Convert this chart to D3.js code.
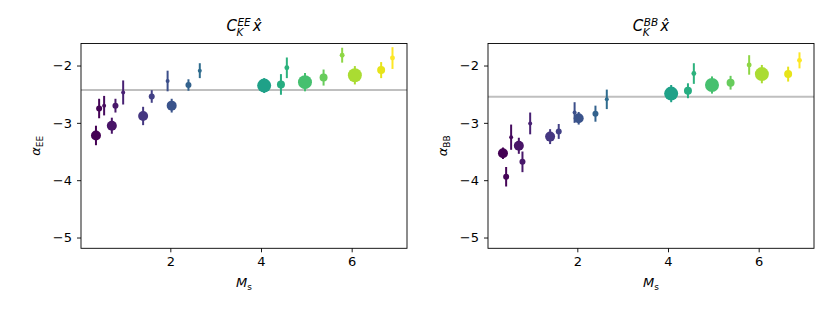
<!DOCTYPE html>
<html>
<head>
<meta charset="utf-8">
<script src="https://cdn.jsdelivr.net/npm/d3@7"></script>
<style>
  body { margin: 0; background: #fff; }
  svg { display: block; font-family: "DejaVu Sans", sans-serif; }
</style>
</head>
<body>
<svg id="chart" width="830" height="312"></svg>
<script>
// M_s for every point (same in both panels)
var msVals = [0.36, 0.43, 0.54, 0.71, 0.79, 0.96, 1.40, 1.59, 1.94, 2.03, 2.40, 2.65,
              4.07, 4.44, 4.57, 4.97, 5.38, 5.79, 6.07, 6.65, 6.90];
// relative weight of each point (drives marker area)
var weights = [25, 9, 4, 25, 9, 4, 25, 9, 4, 25, 9, 4,
               49, 16, 6, 49, 16, 6, 49, 16, 6];

var alphaEE = [-3.22, -2.75, -2.70, -3.05, -2.70, -2.47, -2.88, -2.54, -2.27, -2.70, -2.34, -2.09,
               -2.35, -2.33, -2.04, -2.29, -2.21, -1.82, -2.17, -2.08, -1.87];
var errEE = [0.17, 0.17, 0.17, 0.14, 0.12, 0.21, 0.16, 0.11, 0.18, 0.12, 0.10, 0.13,
             0.13, 0.18, 0.18, 0.16, 0.14, 0.13, 0.16, 0.14, 0.19];

var alphaBB = [-3.53, -3.94, -3.25, -3.40, -3.68, -3.01, -3.24, -3.15, -2.82, -2.92, -2.84, -2.59,
               -2.49, -2.44, -2.14, -2.34, -2.30, -1.99, -2.15, -2.15, -1.91];
var errBB = [0.10, 0.17, 0.22, 0.14, 0.18, 0.19, 0.13, 0.13, 0.18, 0.11, 0.14, 0.17,
             0.15, 0.13, 0.18, 0.15, 0.12, 0.17, 0.16, 0.13, 0.14];

var refEE = -2.427;
var refBB = -2.544;

var xTicks = [2, 4, 6];
var yTicks = [-2, -3, -4, -5];

var panels = [
  { left: 81, spec: 'EE', vals: alphaEE, errs: errEE, ref: refEE },
  { left: 488, spec: 'BB', vals: alphaBB, errs: errBB, ref: refBB }
];

var plotW = 326, plotTop = 43.5, plotH = 204.8;
var svg = d3.select('#chart');
svg.append('rect').attr('width', 830).attr('height', 312).attr('fill', '#fff');

var color = d3.scaleSequential(d3.interpolateViridis).domain(d3.extent(msVals));
var rScale = d3.scaleSqrt().domain([0, 49]).range([0, 7]);

panels.forEach(function(p) {
  var x = d3.scaleLinear().domain([0.03, 7.22]).range([p.left, p.left + plotW]);
  var y = d3.scaleLinear().domain([-5.188, -1.616]).range([plotTop + plotH, plotTop]);
  var g = svg.append('g');

  // reference line
  g.append('line')
    .attr('x1', p.left).attr('x2', p.left + plotW)
    .attr('y1', y(p.ref)).attr('y2', y(p.ref))
    .attr('stroke', '#bfbfbf').attr('stroke-width', 2);

  var pts = msVals.map(function(m, i) {
    return { m: m, v: p.vals[i], e: p.errs[i], w: weights[i] };
  });

  g.selectAll('line.err').data(pts).enter().append('line')
    .attr('class', 'err')
    .attr('x1', function(d) { return x(d.m); })
    .attr('x2', function(d) { return x(d.m); })
    .attr('y1', function(d) { return y(d.v - d.e); })
    .attr('y2', function(d) { return y(d.v + d.e); })
    .attr('stroke', function(d) { return color(d.m); })
    .attr('stroke-width', 2);

  g.selectAll('circle').data(pts).enter().append('circle')
    .attr('cx', function(d) { return x(d.m); })
    .attr('cy', function(d) { return y(d.v); })
    .attr('r', function(d) { return rScale(d.w); })
    .attr('fill', function(d) { return color(d.m); });

  // axes
  var xAxis = g.append('g').attr('transform', 'translate(0,' + (plotTop + plotH) + ')')
    .call(d3.axisBottom(x).tickValues(xTicks).tickSize(4).tickPadding(4).tickFormat(d3.format('d')));
  var yAxis = g.append('g').attr('transform', 'translate(' + p.left + ',0)')
    .call(d3.axisLeft(y).tickValues(yTicks).tickSize(4).tickPadding(5)
      .tickFormat(function(d) { return '\u2212' + Math.abs(d); }));
  [xAxis, yAxis].forEach(function(a) {
    a.select('.domain').remove();
    a.selectAll('text').attr('font-family', '"DejaVu Sans", sans-serif')
      .attr('font-size', 13).attr('fill', '#000');
    a.selectAll('line').attr('stroke', '#000').attr('stroke-width', 0.9);
  });

  // frame
  g.append('rect').attr('x', p.left).attr('y', plotTop).attr('width', plotW).attr('height', plotH)
    .attr('fill', 'none').attr('stroke', '#000').attr('stroke-width', 0.9);

  // x label
  var xl = g.append('text').attr('x', p.left + plotW / 2).attr('y', 287)
    .attr('text-anchor', 'middle').attr('font-size', 13);
  xl.append('tspan').attr('font-style', 'italic').text('M');
  xl.append('tspan').attr('font-size', 9).attr('dy', 2.5).text('s');

  // y label
  var yl = g.append('text')
    .attr('transform', 'translate(' + (p.left - 41) + ',' + (plotTop + plotH / 2) + ') rotate(-90)')
    .attr('text-anchor', 'middle').attr('font-size', 13);
  yl.append('tspan').attr('font-style', 'italic').text('\u03b1');
  yl.append('tspan').attr('font-size', 9).attr('dy', 2.5).text(p.spec);

  // title C_K^{XX} x-hat
  var fs = 15;
  var t = g.append('g');
  var c = t.append('text').attr('font-size', fs).attr('font-style', 'italic').text('C');
  var cw = c.node().getComputedTextLength();
  var sup = t.append('text').attr('x', cw + 0.5).attr('y', -5.5).attr('font-size', 10.5)
    .attr('font-style', 'italic').text(p.spec);
  var sub = t.append('text').attr('x', cw - 0.5).attr('y', 5).attr('font-size', 10.5)
    .attr('font-style', 'italic').text('K');
  var sw = Math.max(cw + 0.5 + sup.node().getComputedTextLength(), cw - 0.5 + sub.node().getComputedTextLength());
  var xh = t.append('text').attr('x', sw + 2).attr('font-size', fs).attr('font-style', 'italic').text('x\u0302');
  var tw = sw + 2 + xh.node().getComputedTextLength();
  t.attr('transform', 'translate(' + (p.left + plotW / 2 - tw / 2) + ',31)');
});
</script>
</body>
</html>
